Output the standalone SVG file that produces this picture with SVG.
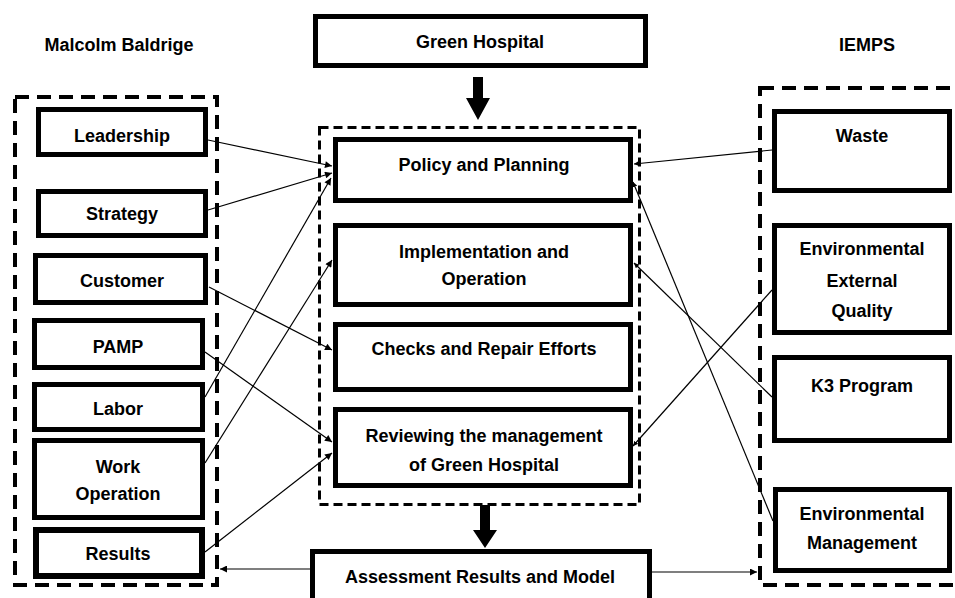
<svg xmlns="http://www.w3.org/2000/svg" width="955" height="598" viewBox="0 0 955 598">
<defs>
<style>
.t{font-family:"Liberation Sans",Arial,sans-serif;font-weight:bold;font-size:18px;fill:#000;text-anchor:middle}
.box{fill:#fff;stroke:#000;stroke-width:5}
.grp{fill:none;stroke:#000;stroke-width:4;stroke-dasharray:14 8}
.grpc{fill:none;stroke:#000;stroke-width:3;stroke-dasharray:9 5}
.ca{stroke:#000;stroke-width:1.2;fill:none;marker-end:url(#ah)}
.cs{stroke:#000;stroke-width:1.2;fill:none;marker-end:url(#ahs)}
</style>
<marker id="ah" viewBox="0 0 10 10" refX="10" refY="5" markerWidth="9" markerHeight="7" markerUnits="userSpaceOnUse" orient="auto">
<path d="M0,0 L10,5 L0,10 z" fill="#000"/>
</marker>
<marker id="ahs" viewBox="0 0 10 10" refX="10" refY="5" markerWidth="5" markerHeight="5" markerUnits="userSpaceOnUse" orient="auto">
<path d="M0,0 L10,5 L0,10 z" fill="#000"/>
</marker>
</defs>
<rect width="955" height="598" fill="#fff"/>

<text class="t" x="119" y="51">Malcolm Baldrige</text>
<text class="t" x="867" y="51">IEMPS</text>

<g id="group-left"><rect class="grp" x="15" y="97" width="202" height="488"/></g>
<g id="group-center"><rect class="grpc" x="319.5" y="127.5" width="320" height="377"/></g>
<g id="group-right"><rect class="grp" x="760" y="88" width="200" height="497"/></g>

<g id="green-hospital">
<rect x="318" y="18" width="330" height="50" fill="#000"/>
<rect class="box" x="315.5" y="16.5" width="330" height="49"/>
<text class="t" x="480" y="48">Green Hospital</text>
</g>

<g id="leadership"><rect class="box" x="38.5" y="109.5" width="167" height="45"/><text class="t" x="122" y="142">Leadership</text></g>
<g id="strategy"><rect class="box" x="38.5" y="191.5" width="167" height="44"/><text class="t" x="122" y="220">Strategy</text></g>
<g id="customer"><rect class="box" x="35.5" y="255.5" width="170" height="47"/><text class="t" x="122" y="287">Customer</text></g>
<g id="pamp"><rect class="box" x="34.5" y="320.5" width="168" height="47"/><text class="t" x="118" y="353">PAMP</text></g>
<g id="labor"><rect class="box" x="34.5" y="384.5" width="168" height="45"/><text class="t" x="118" y="415">Labor</text></g>
<g id="work-operation"><rect class="box" x="34.5" y="440.5" width="168" height="77"/><text class="t" x="118" y="473">Work</text><text class="t" x="118" y="500">Operation</text></g>
<g id="results"><rect class="box" x="36" y="530" width="166" height="46" style="stroke-width:6"/><text class="t" x="118" y="560">Results</text></g>

<g id="policy"><rect class="box" x="335.5" y="139.5" width="295" height="61"/><text class="t" x="484" y="171">Policy and Planning</text></g>
<g id="implementation"><rect class="box" x="335.5" y="225.5" width="295" height="79"/><text class="t" x="484" y="258">Implementation and</text><text class="t" x="484" y="285">Operation</text></g>
<g id="checks"><rect class="box" x="335.5" y="324.5" width="295" height="65"/><text class="t" x="484" y="355">Checks and Repair Efforts</text></g>
<g id="reviewing"><rect class="box" x="335.5" y="409.5" width="295" height="76"/><text class="t" x="484" y="442">Reviewing the management</text><text class="t" x="484" y="471">of Green Hospital</text></g>

<g id="assessment"><rect class="box" x="312.5" y="551.5" width="337" height="52"/><text class="t" x="480" y="583">Assessment Results and Model</text></g>

<g id="waste"><rect class="box" x="774.5" y="111.5" width="175" height="79"/><text class="t" x="862" y="142">Waste</text></g>
<g id="env-external"><rect class="box" x="774.5" y="225.5" width="175" height="107"/><text class="t" x="862" y="255">Environmental</text><text class="t" x="862" y="287">External</text><text class="t" x="862" y="317">Quality</text></g>
<g id="k3"><rect class="box" x="774.5" y="357.5" width="175" height="83"/><text class="t" x="862" y="392">K3 Program</text></g>
<g id="env-management"><rect class="box" x="775.5" y="489.5" width="174" height="81"/><text class="t" x="862" y="520">Environmental</text><text class="t" x="862" y="549">Management</text></g>

<g id="connectors">
<path d="M473,77 h10 v21 h7 l-12,22 l-12,-22 h7 z" fill="#000"/>
<path d="M480,505 h10 v25 h7 l-12,18 l-12,-18 h7 z" fill="#000"/>
<line class="ca" x1="208" y1="140" x2="332" y2="166"/>
<line class="ca" x1="208" y1="210" x2="332" y2="173"/>
<line class="ca" x1="205" y1="397" x2="331" y2="178"/>
<line class="ca" x1="209" y1="287" x2="332" y2="350"/>
<line class="ca" x1="205" y1="463" x2="332" y2="260"/>
<line class="ca" x1="205" y1="352" x2="332" y2="442"/>
<line class="ca" x1="205" y1="552" x2="332" y2="453"/>
<line class="cs" x1="772" y1="150" x2="634" y2="164"/>
<line class="cs" x1="773" y1="521" x2="633" y2="182"/>
<line class="cs" x1="772" y1="397" x2="634" y2="263"/>
<line class="cs" x1="772" y1="290" x2="633" y2="446"/>
<line class="ca" x1="310" y1="569" x2="220" y2="569"/>
<line class="ca" x1="652" y1="572" x2="757" y2="572"/>
</g>
</svg>
